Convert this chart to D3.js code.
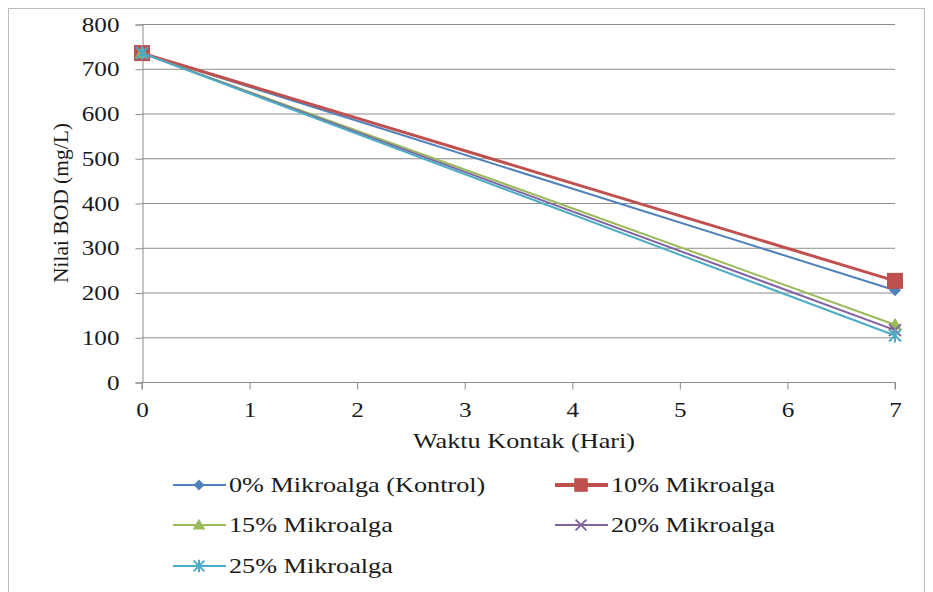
<!DOCTYPE html>
<html><head><meta charset="utf-8">
<script src="https://cdn.jsdelivr.net/npm/d3@7"></script>
</head><body style="margin:0">
<svg id="c" width="933" height="592"></svg>
<script>
const days = [0, 7];
const seriesNames = ["0% Mikroalga (Kontrol)", "10% Mikroalga", "15% Mikroalga", "20% Mikroalga", "25% Mikroalga"];
const bod0 = [735, 205];
const bod10 = [735, 226];
const bod15 = [735, 128];
const bod20 = [735, 116];
const bod25 = [735, 104];
const yTicks = [0, 100, 200, 300, 400, 500, 600, 700, 800];
const xTicks = [0, 1, 2, 3, 4, 5, 6, 7];
const colors = ["#4F81BD", "#C0504D", "#9BBB59", "#8064A2", "#4BACC6"];
const markers = ["diamond", "square", "triangle", "x", "star"];
const allValues = [bod0, bod10, bod15, bod20, bod25];
const FAM = "Liberation Serif";

const svg = d3.select("#c");
svg.append("rect").attr("x", 8.5).attr("y", 8.5).attr("width", 916).attr("height", 600)
  .attr("fill", "none").attr("stroke", "#bdbdbd").attr("stroke-width", 1);

const x = d3.scaleLinear().domain([0, 7]).range([142, 895]);
const y = d3.scaleLinear().domain([0, 800]).range([382, 24]);

function styleText(sel, size) {
  sel.attr("font-family", FAM).style("font-family", `"${FAM}"`).style("font-size", size + "px").style("fill", "#1a1a1a");
}
function stretch(sel, sx) {
  sel.each(function () {
    const t = d3.select(this);
    const tx = +t.attr("x") || 0, ty = +t.attr("y") || 0;
    t.attr("x", 0).attr("y", 0).attr("transform", `translate(${tx},${ty}) scale(${sx},1)`);
  });
}

svg.append("g").selectAll("line").data(yTicks.filter(d => d > 0)).join("line")
  .attr("x1", x(0)).attr("x2", x(7)).attr("y1", d => y(d) + 0.5).attr("y2", d => y(d) + 0.5)
  .attr("stroke", "#8c8c8c").attr("stroke-width", 1);

const yAxis = svg.append("g").attr("transform", `translate(${x(0) + 0.5},0.5)`)
  .call(d3.axisLeft(y).tickValues(yTicks).tickSize(7).tickPadding(16).tickFormat(d3.format("d")));
const xAxis = svg.append("g").attr("transform", `translate(0,${y(0) + 0.5})`)
  .call(d3.axisBottom(x).tickValues(xTicks).tickSize(7).tickPadding(13).tickFormat(d3.format("d")));
[yAxis, xAxis].forEach(a => {
  a.attr("font-family", null).attr("font-size", null);
  a.select(".domain").attr("stroke", "#8c8c8c");
  a.selectAll(".tick line").attr("stroke", "#8c8c8c");
  styleText(a.selectAll("text"), 21);
  stretch(a.selectAll("text"), 1.2);
});
xAxis.select(".domain").attr("d", `M${x(0)},7V0H${x(7)}V7`);

styleText(svg.append("text").attr("transform", `translate(68,${y(400)}) rotate(-90)`).attr("text-anchor", "middle")
  .text("Nilai BOD (mg/L)"), 21.5);
const xt = svg.append("text").attr("x", 524).attr("y", 448).attr("text-anchor", "middle").text("Waktu Kontak (Hari)");
styleText(xt, 21.5); stretch(xt, 1.22);

function drawMarker(g, type, color, cx, cy, scale) {
  const s = scale || 1;
  if (type === "diamond") {
    g.append("path").attr("d", `M${cx},${cy - 6 * s}L${cx + 6 * s},${cy}L${cx},${cy + 6 * s}L${cx - 6 * s},${cy}Z`).attr("fill", color);
  } else if (type === "square") {
    g.append("rect").attr("x", cx - 8 * s).attr("y", cy - 8 * s).attr("width", 16 * s).attr("height", 16 * s).attr("fill", color);
  } else if (type === "triangle") {
    g.append("path").attr("d", `M${cx},${cy - 7 * s}L${cx + 7 * s},${cy + 5 * s}L${cx - 7 * s},${cy + 5 * s}Z`).attr("fill", color);
  } else if (type === "x") {
    g.append("path").attr("d", `M${cx - 6 * s},${cy - 6 * s}L${cx + 6 * s},${cy + 6 * s}M${cx + 6 * s},${cy - 6 * s}L${cx - 6 * s},${cy + 6 * s}`)
      .attr("stroke", color).attr("stroke-width", 2).attr("fill", "none");
  } else if (type === "star") {
    g.append("path").attr("d", `M${cx - 6 * s},${cy - 6 * s}L${cx + 6 * s},${cy + 6 * s}M${cx + 6 * s},${cy - 6 * s}L${cx - 6 * s},${cy + 6 * s}M${cx},${cy - 7 * s}V${cy + 7 * s}`)
      .attr("stroke", color).attr("stroke-width", 2).attr("fill", "none");
  }
}

const line = d3.line().x((d, i) => x(days[i])).y(d => y(d));
allValues.forEach((vals, k) => {
  const g = svg.append("g");
  g.append("path").datum(vals).attr("d", line).attr("fill", "none")
    .attr("stroke", colors[k]).attr("stroke-width", k === 1 ? 3 : 2);
  vals.forEach((v, i) => drawMarker(g, markers[k], colors[k], x(days[i]), y(v)));
});

const legPos = [[173, 485], [555, 485], [173, 525], [555, 525], [173, 566]];
seriesNames.forEach((name, k) => {
  const [lx, ly] = legPos[k];
  const g = svg.append("g");
  g.append("line").attr("x1", lx).attr("x2", lx + 53).attr("y1", ly).attr("y2", ly)
    .attr("stroke", colors[k]).attr("stroke-width", k === 1 ? 4 : 2);
  drawMarker(g, markers[k], colors[k], lx + 26, ly, k === 1 ? 0.85 : 0.9);
  const t = g.append("text").attr("x", lx + 56).attr("y", ly + 7).text(name);
  styleText(t, 21.5); stretch(t, 1.22);
});
</script></body></html>
